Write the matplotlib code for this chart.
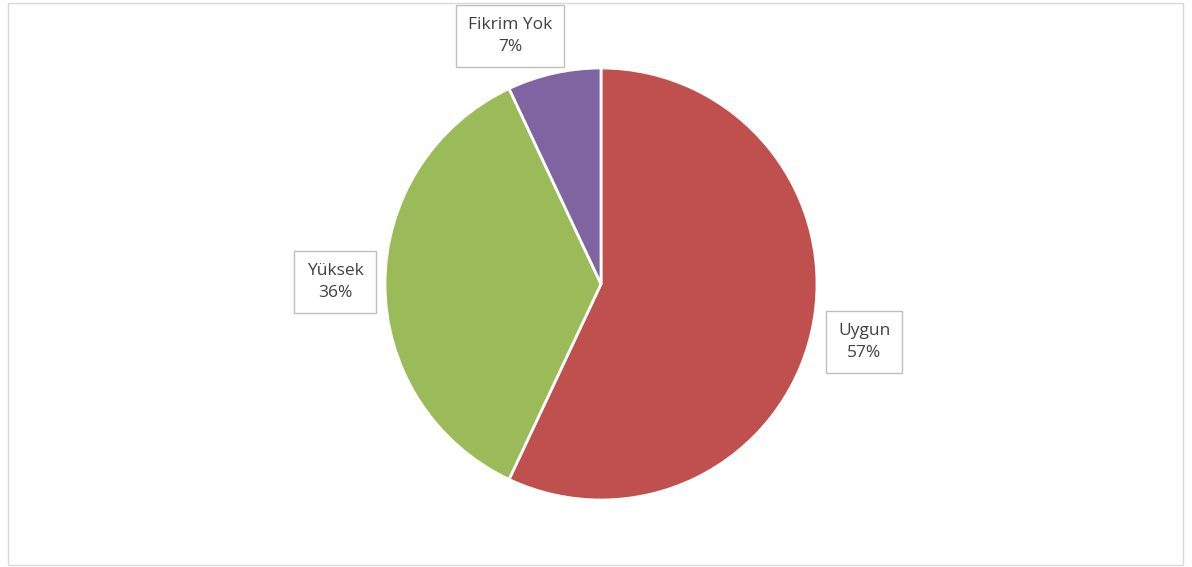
import matplotlib
matplotlib.use("Agg")
from matplotlib import pyplot as plt
from matplotlib.patches import Rectangle

# DATA
labels = ["Uygun", "Yüksek", "Fikrim Yok"]
shares = [57, 36, 7]
colors = ["#C0504D", "#9BBB59", "#8064A2"]

W, H = 1192, 567
fig = plt.figure(figsize=(W / 100, H / 100), dpi=100)
plt.rcParams['font.family'] = ['Open Sans', 'DejaVu Sans']

# outer chart border
fig.patches.append(Rectangle((8 / W, 2 / H), 1175 / W, 562 / H, transform=fig.transFigure,
                             fill=False, edgecolor="#D9D9D9", linewidth=1))

# pie axes: center (601, 284) px, radius 216 px
cx, cy, r = 601, 284, 216
ax = fig.add_axes([(cx - r) / W, (H - cy - r) / H, 2 * r / W, 2 * r / H])
ax.pie(shares, colors=colors, startangle=90, counterclock=False,
       wedgeprops=dict(edgecolor="white", linewidth=2))
ax.set_xlim(-1.0, 1.0)
ax.set_ylim(-1.0, 1.0)
ax.set_aspect("equal")
ax.axis("off")

# callout labels (pixel centers of the boxes)
label_pos = {"Uygun": (864, 342), "Yüksek": (335, 282), "Fikrim Yok": (510, 36)}
for lab, val in zip(labels, shares):
    x, y = label_pos[lab]
    fig.text(x / W, 1 - y / H, f"{lab}\n{val}%", ha="center", va="center",
             fontsize=12.5, color="#404040", linespacing=1.45,
             bbox=dict(boxstyle="square,pad=0.7", facecolor="white",
                       edgecolor="#BFBFBF", linewidth=1))

fig.savefig("out.png", dpi=100)
